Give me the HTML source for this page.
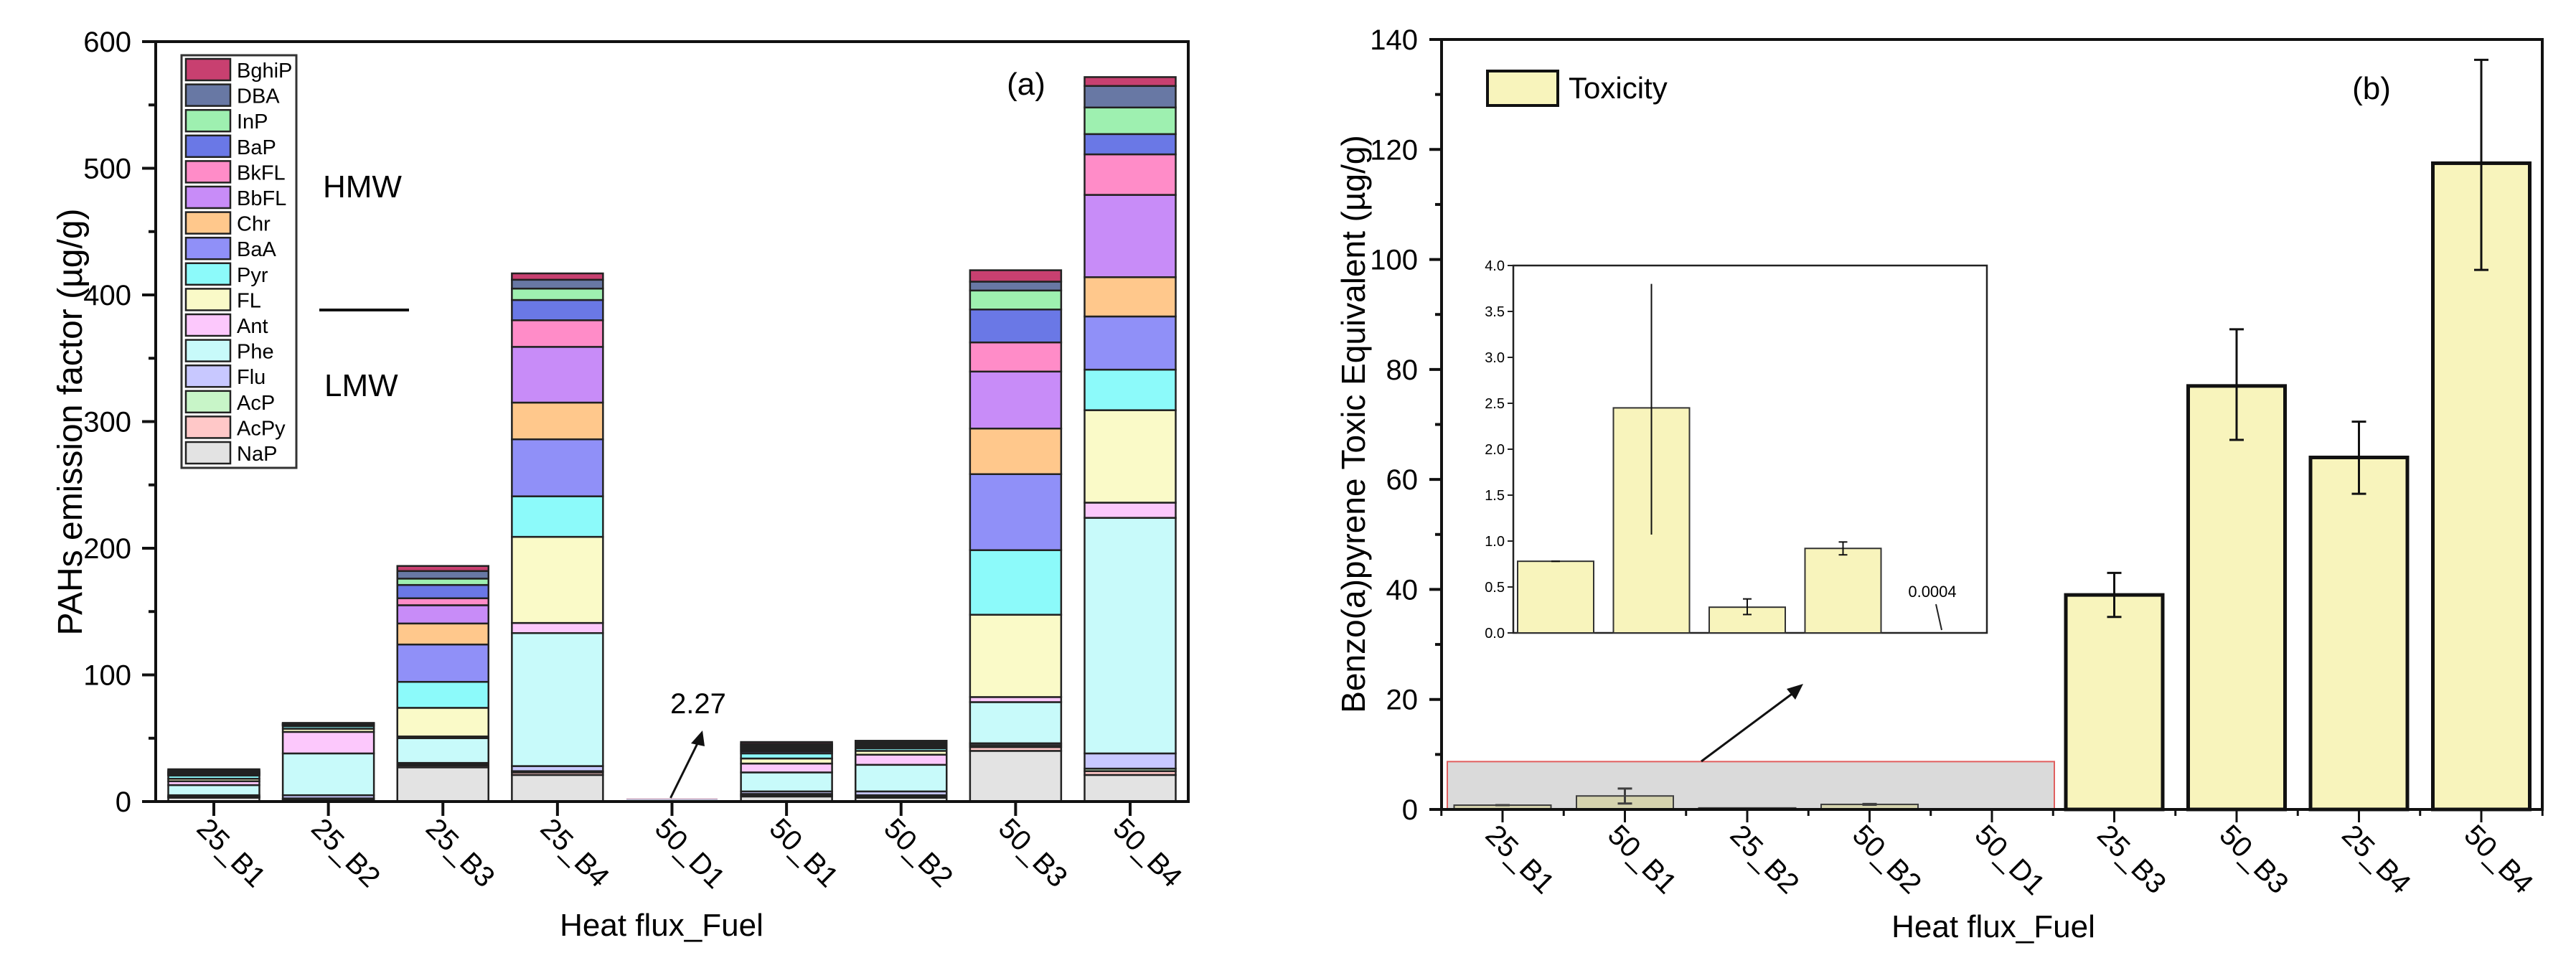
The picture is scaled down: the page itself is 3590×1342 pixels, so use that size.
<!DOCTYPE html>
<html><head><meta charset="utf-8"><style>
html,body{margin:0;padding:0;background:#fff}
svg{display:block;font-family:"Liberation Sans",Arial,sans-serif}
</style></head><body>
<svg id="svg" width="3590" height="1342" viewBox="0 0 3590 1342" xmlns="http://www.w3.org/2000/svg">
<g id="ga"></g>
<g id="gb"></g>
</svg>
<script>
const NS="http://www.w3.org/2000/svg";
// ---------- Chart A data ----------
const catsA=["25_B1","25_B2","25_B3","25_B4","50_D1","50_B1","50_B2","50_B3","50_B4"];
const speciesA=["NaP","AcPy","AcP","Flu","Phe","Ant","FL","Pyr","BaA","Chr","BbFL","BkFL","BaP","InP","DBA","BghiP"];
const colorsA=["#e3e3e3","#ffc8c8","#c8f5c8","#c8c8ff","#c8fafa","#fcc8fc","#fafac8","#8cfafa","#9090f8","#ffc88c","#c88cf8","#ff8cc8","#6a78e6","#9ef0b0","#6878a4","#c84070"];
const valNaP  =[3,1.5,27,21,1,4,3,40,21];
const valAcPy =[0.5,0.5,1.5,2,0.1,1,1,3,3];
const valAcP  =[0.5,0.5,1,1,0.1,1,1,1.5,2];
const valFlu  =[1,2.5,1,4,0.1,2,3,1.5,12];
const valPhe  =[8,33,19.5,105,0.6,15,21,32.5,186];
const valAnt  =[3,17,1.4,8,0.05,7,8,4,12];
const valFL   =[2,2.5,22.6,68,0.05,4,3,65,73];
const valPyr  =[2.5,2,20.5,32,0.05,4,2,51,32];
const valBaA  =[0.5,0.5,29.5,45,0.02,1.5,1,60,42];
const valChr  =[0.5,0.3,16.6,29,0.02,1,1,36,31];
const valBbFL =[0.5,0.3,14.4,44,0.02,1,1,45,65];
const valBkFL =[0.5,0.3,5.5,21,0.02,1,0.5,23,32];
const valBaP  =[0.5,0.3,10.5,16,0.02,1,0.5,26,16];
const valInP  =[0.5,0.3,5,9,0.02,1,0.5,15,21];
const valDBA  =[1,0.3,6,7,0.02,1,0.5,7,17];
const valBghiP=[1,0.3,4,5,0.02,1.5,1,9,7];
const seriesA=[valNaP,valAcPy,valAcP,valFlu,valPhe,valAnt,valFL,valPyr,valBaA,valChr,valBbFL,valBkFL,valBaP,valInP,valDBA,valBghiP];
const ticksA=[0,100,200,300,400,500,600];
const annotA="2.27";
// ---------- Chart B data ----------
const catsB=["25_B1","50_B1","25_B2","50_B2","50_D1","25_B3","50_B3","25_B4","50_B4"];
const valB=[0.78,2.45,0.28,0.92,0.0004,39,77,64,117.5];
const errLoB=[0.78,1.07,0.2,0.85,0.0004,35,67.2,57.4,98.1];
const errHiB=[0.78,3.8,0.37,0.99,0.0004,43,87.3,70.5,136.3];
const ticksB=[0,20,40,60,80,100,120,140];
const insetCount=4;
const ticksInset=[0,0.5,1,1.5,2,2.5,3,3.5,4];
const insetNote="0.0004";

function el(parent,tag,attrs,text){const e=document.createElementNS(NS,tag);for(const k in attrs)e.setAttribute(k,attrs[k]);if(text!==undefined)e.textContent=text;parent.appendChild(e);return e;}

// ===== Chart A =====
const ga=document.getElementById('ga');
const A={l:217,r:1656,t:58,b:1117,ymax:600,x0:298,x1:1575,bw:127};
const yA=v=>A.b-(v/A.ymax)*(A.b-A.t);
const xA=i=>A.x0+i*(A.x1-A.x0)/(catsA.length-1);
catsA.forEach((c,i)=>{
  let base=0;
  const total=seriesA.reduce((s,a)=>s+a[i],0);
  const tiny=total<5;
  seriesA.forEach((s,k)=>{
    const v=s[i];const y1=yA(base),y2=yA(base+v);
    const r=el(ga,'rect',{x:xA(i)-A.bw/2,y:y2,width:A.bw,height:Math.max(y1-y2,0.5),fill:colorsA[k],stroke:tiny?'none':'#222',"stroke-width":2.5});
    
    
    base+=v;
  });
});
// axes
let fr=el(ga,'rect',{x:A.l,y:A.t,width:A.r-A.l,height:A.b-A.t,fill:'none',stroke:'#111','stroke-width':4});

for(let v=0;v<=600;v+=50){const y=yA(v);const major=v%100===0;
  const t=el(ga,'line',{x1:major?198:207,x2:A.l,y1:y,y2:y,stroke:'#111','stroke-width':4});
  }
ticksA.forEach(v=>{const t=el(ga,'text',{x:183,y:yA(v)+14,'text-anchor':'end','font-size':40},String(v));
  });
catsA.forEach((c,i)=>{const x=xA(i);
  const t=el(ga,'line',{x1:x,x2:x,y1:A.b,y2:A.b+20,stroke:'#111','stroke-width':4});
  
  const l=el(ga,'text',{transform:`translate(${x-26},${A.b+40}) rotate(45)`,'font-size':40},c);
  });
let tt=el(ga,'text',{x:922,y:1304,'text-anchor':'middle','font-size':44},'Heat flux_Fuel');

tt=el(ga,'text',{transform:'translate(114,588) rotate(-90)','text-anchor':'middle','font-size':48},'PAHs emission factor (µg/g)');

tt=el(ga,'text',{x:1430,y:132,'text-anchor':'middle','font-size':44},'(a)');

tt=el(ga,'text',{x:450,y:275,'font-size':44},'HMW');
tt=el(ga,'text',{x:452,y:552,'font-size':44},'LMW');
tt=el(ga,'line',{x1:445,x2:570,y1:432,y2:432,stroke:'#111','stroke-width':4});
// annotation 2.27
tt=el(ga,'text',{x:973,y:994,'text-anchor':'middle','font-size':40},annotA);
tt=el(ga,'line',{x1:xA(4)-2,y1:1112,x2:975,y2:1030,stroke:'#111','stroke-width':3});
tt=el(ga,'polygon',{points:'979,1018 963,1036 982,1040',fill:'#111'});
// legend
const lg=el(ga,'g',{});
el(lg,'rect',{x:253,y:77,width:160,height:575,fill:'#fff',stroke:'#333','stroke-width':3});
for(let j=0;j<16;j++){const k=15-j;const y=82+j*35.6;
  const g=el(lg,'g',{});
  el(g,'rect',{x:259,y:y,width:62,height:30,fill:colorsA[k],stroke:'#222','stroke-width':2.5});
  el(g,'text',{x:330,y:y+26,'font-size':29},speciesA[k]);}

// ===== Chart B =====
const gb=document.getElementById('gb');
const B={l:2009,r:3543,t:55,b:1128,ymax:140,x0:2094,x1:3458,bw:135};
const yB=v=>B.b-(v/B.ymax)*(B.b-B.t);
const xB=i=>B.x0+i*(B.x1-B.x0)/(catsB.length-1);
function errbar(g,x,yl,yh,cap,w){el(g,'line',{x1:x,x2:x,y1:yl,y2:yh,stroke:'#111','stroke-width':w});
  el(g,'line',{x1:x-cap,x2:x+cap,y1:yl,y2:yl,stroke:'#111','stroke-width':w});el(g,'line',{x1:x-cap,x2:x+cap,y1:yh,y2:yh,stroke:'#111','stroke-width':w});}
catsB.forEach((c,i)=>{const x=xB(i);const small=i<5;
  const g=el(gb,'g',{});
  el(g,'rect',{x:x-B.bw/2,y:yB(valB[i]),width:B.bw,height:B.b-yB(valB[i]),fill:'#f8f4bc',stroke:'#111','stroke-width':small?2:5});
  if(valB[i]>0.5)errbar(g,x,yB(errLoB[i]),yB(errHiB[i]),10,3);
});
// grey highlight box
tt=el(gb,'rect',{x:2017,y:yB(8.7),width:846,height:B.b-yB(8.7),fill:'rgba(150,150,150,0.35)',stroke:'#e06060','stroke-width':2});

tt=el(gb,'line',{x1:2371,y1:1061,x2:2500,y2:965,stroke:'#111','stroke-width':3});
tt=el(gb,'polygon',{points:'2513,953 2490,960 2502,975',fill:'#111'});
fr=el(gb,'rect',{x:B.l,y:B.t,width:B.r-B.l,height:B.b-B.t,fill:'none',stroke:'#111','stroke-width':4});

for(let v=0;v<=140;v+=10){const y=yB(v);const major=v%20===0;
  const t=el(gb,'line',{x1:major?1992:2000,x2:B.l,y1:y,y2:y,stroke:'#111','stroke-width':4});
  }
ticksB.forEach(v=>{const t=el(gb,'text',{x:1976,y:yB(v)+14,'text-anchor':'end','font-size':40},String(v));
  });
const pB=(B.x1-B.x0)/(catsB.length-1);
for(let i=-0.5;i<=catsB.length-0.5;i+=0.5){const x=B.x0+i*pB;const major=Number.isInteger(i);
  const t=el(gb,'line',{x1:x,x2:x,y1:B.b,y2:B.b+(major?18:9),stroke:'#111','stroke-width':3});
  }
catsB.forEach((c,i)=>{const l=el(gb,'text',{transform:`translate(${xB(i)-26},${B.b+38}) rotate(45)`,'font-size':40},c);
  });
tt=el(gb,'text',{x:2778,y:1306,'text-anchor':'middle','font-size':44},'Heat flux_Fuel');

tt=el(gb,'text',{transform:'translate(1902,591) rotate(-90)','text-anchor':'middle','font-size':46},'Benzo(a)pyrene Toxic Equivalent (µg/g)');

tt=el(gb,'text',{x:3305,y:138,'text-anchor':'middle','font-size':44},'(b)');

const lb=el(gb,'g',{});
el(lb,'rect',{x:2073,y:99,width:98,height:48,fill:'#f8f4bc',stroke:'#111','stroke-width':4});
el(lb,'text',{x:2186,y:137,'font-size':42},'Toxicity');
// inset
const I={l:2109,r:2769,t:370,b:882,ymax:4};
const yI=v=>I.b-(v/I.ymax)*(I.b-I.t);
const xI=i=>2168+i*133.5;
const gi=el(gb,'g',{});
el(gi,'rect',{x:I.l,y:I.t,width:I.r-I.l,height:I.b-I.t,fill:'#fff',stroke:'#222','stroke-width':2.5});
for(let i=0;i<insetCount;i++){const x=xI(i);
  const g=el(gi,'g',{});
  el(g,'rect',{x:x-53,y:yI(valB[i]),width:106,height:I.b-yI(valB[i]),fill:'#f8f4bc',stroke:'#333','stroke-width':2});
  errbar(g,x,yI(errLoB[i]),yI(Math.min(errHiB[i],3.8)),i==1?0:6,2);}
ticksInset.forEach(v=>{const y=yI(v);
  const t=el(gi,'line',{x1:I.l-8,x2:I.l,y1:y,y2:y,stroke:'#222','stroke-width':2});
  const l=el(gi,'text',{x:I.l-12,y:y+7,'text-anchor':'end','font-size':20},v.toFixed(1));});
tt=el(gi,'text',{x:2693,y:832,'text-anchor':'middle','font-size':22},insetNote);
tt=el(gi,'line',{x1:2706,y1:878,x2:2698,y2:842,stroke:'#222','stroke-width':2});
</script>
</body></html>
